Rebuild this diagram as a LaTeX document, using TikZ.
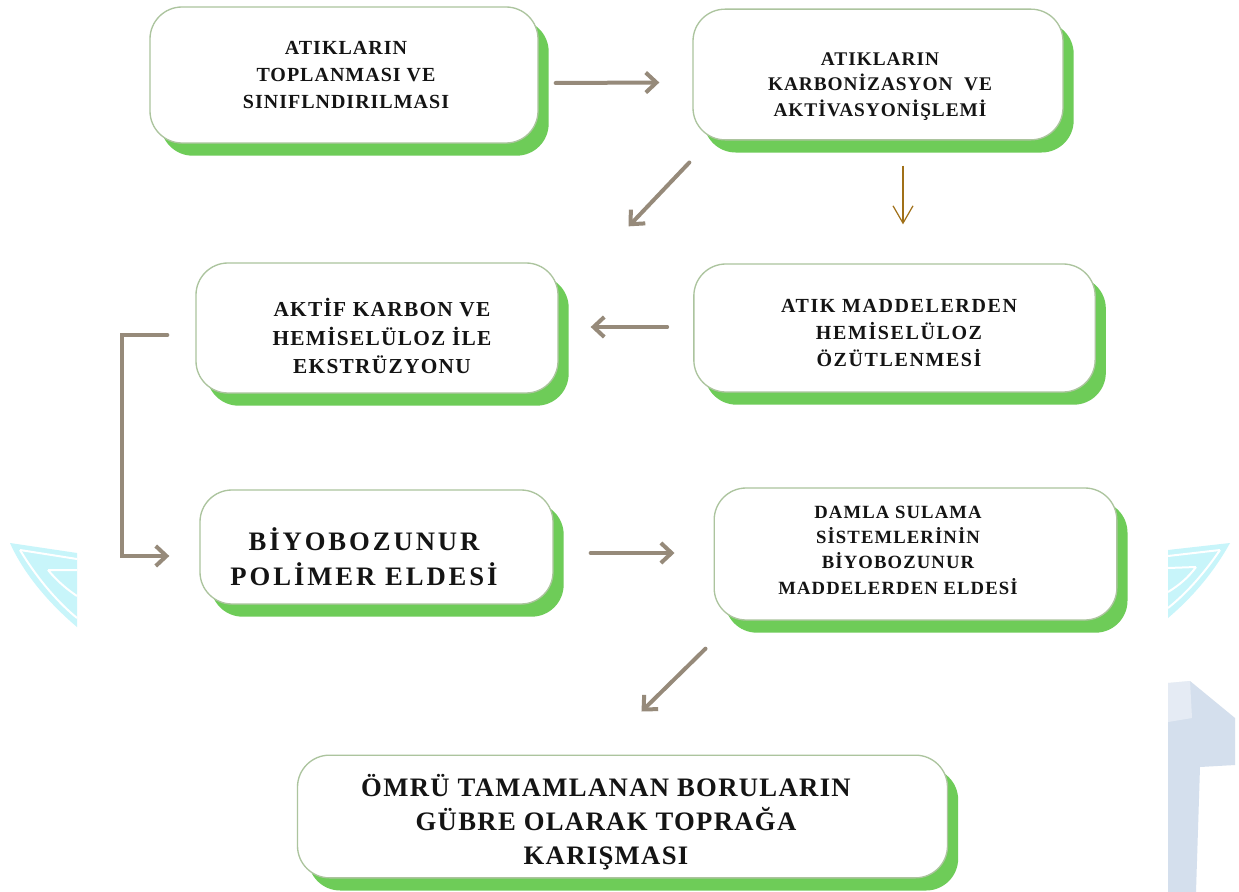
\documentclass[tikz,border=0pt]{standalone}
\usepackage{fontspec}
\setmainfont{Liberation Serif}
\usetikzlibrary{arrows.meta,shadows,calc}
\definecolor{shgreen}{RGB}{110,204,88}
\definecolor{boxline}{RGB}{172,196,158}
\definecolor{arrgray}{RGB}{150,138,122}
\definecolor{arrbrown}{RGB}{160,112,24}
\definecolor{wmcyan}{RGB}{200,245,250}
\definecolor{wmblue}{RGB}{212,223,237}
\tikzset{
  stepbox/.style={draw=boxline, line width=1pt, fill=white, rounded corners=24pt,
    inner sep=0pt, drop shadow={shadow xshift=8pt, shadow yshift=-9.5pt,
    fill=shgreen, opacity=1, shadow scale=1}},
  lbl/.style={align=center, inner sep=0pt, text=black!92},
  arr/.style={draw=arrgray, line width=3pt, line cap=round,
    -{Straight Barb[length=8pt,width=15pt]}},
  thinarr/.style={draw=arrbrown, line width=0.9pt,
    -{Straight Barb[length=13pt,width=15pt]}}
}
\newcommand{\boxfont}[3]{\bfseries\addfontfeatures{LetterSpace=#3}\fontsize{#1}{#2}\selectfont}
\begin{document}
\begin{tikzpicture}[x=0.75pt,y=-0.75pt]
\useasboundingbox (0,0) rectangle (1239,892);
\fill[white] (0,0) rectangle (1239,892);
% watermark remnants
\fill[wmcyan] (10,543) -- (77,553) -- (77,627) .. controls (45,600) and (22,570) .. cycle;
\draw[white, line width=1.5pt] (20,550) -- (77,559);
\draw[white, line width=1.5pt] (20,550) .. controls (35,575) and (55,600) .. (77,618);
\draw[white, line width=1.5pt] (48,570) -- (77,570) (48,570) .. controls (58,582) and (68,590) .. (77,596);
\fill[wmcyan] (1230,543) -- (1168,550) -- (1168,618) .. controls (1195,595) and (1215,570) .. cycle;
\draw[white, line width=1.5pt] (1220,550) -- (1168,556);
\draw[white, line width=1.5pt] (1220,550) .. controls (1205,572) and (1188,592) .. (1168,608);
\draw[white, line width=1.5pt] (1196,567) -- (1168,568) (1196,567) .. controls (1188,578) and (1178,586) .. (1168,592);
\fill[wmblue] (1168,683) -- (1190,681) -- (1235,718) -- (1235,765) -- (1200,767) -- (1196,892) -- (1168,892) -- cycle;
\fill[white, opacity=0.4] (1168,683) -- (1190,681) -- (1192,718) -- (1168,722) -- cycle;

% boxes
\node[stepbox, minimum width=291pt, minimum height=102pt] (b1) at (344,75) {};
\node[stepbox, minimum width=277.5pt, minimum height=98pt] (b2) at (878,74.5) {};
\node[stepbox, minimum width=271.5pt, minimum height=97.5pt] (b3) at (377,328) {};
\node[stepbox, minimum width=301pt, minimum height=96pt] (b4) at (894.5,328) {};
\node[stepbox, minimum width=264.75pt, minimum height=85.5pt] (b5) at (376.5,547) {};
\node[stepbox, minimum width=302pt, minimum height=99pt] (b6) at (915.5,554) {};
\node[stepbox, minimum width=487.5pt, minimum height=92pt] (b7) at (622.5,816.5) {};

% texts
\node[lbl, font=\boxfont{15}{20.6}{5}] (t1) at (346,75) {ATIKLARIN\\TOPLANMASI VE\\SINIFLNDIRILMASI};
\node[lbl, font=\boxfont{14.5}{19}{5}] (t2) at (880,86.5) {ATIKLARIN\\KARBONİZASYON\ \ VE\\AKTİVASYONİŞLEMİ};
\node[lbl, font=\boxfont{16}{21.7}{6}] (t3) at (382,336) {AKTİF KARBON VE\\HEMİSELÜLOZ İLE\\EKSTRÜZYONU};
\node[lbl, font=\boxfont{15}{20}{8}] (t4) at (899,333) {ATIK MADDELERDEN\\HEMİSELÜLOZ\\ÖZÜTLENMESİ};
\node[lbl, font=\boxfont{20}{26}{11}] (t5) at (364,557) {BİYOBOZUNUR\\POLİMER ELDESİ};
\node[lbl, font=\boxfont{14}{19}{6}] (t6) at (898,550) {DAMLA SULAMA\\SİSTEMLERİNİN\\BİYOBOZUNUR\\MADDELERDEN ELDESİ};
\node[lbl, font=\boxfont{20}{25.5}{5}] (t7) at (606,822) {ÖMRÜ TAMAMLANAN BORULARIN\\GÜBRE OLARAK TOPRAĞA\\KARIŞMASI};

% connectors
\draw[arr] ([shift={(17,8)}]b1.east) -- ([shift={(-33,8)}]b2.west);
\draw[arr] ([shift={(-3,22)}]b2.south west) -- ([shift={(70,-36)}]b3.north east);
\draw[thinarr] ([shift={(25,25)}]b2.south) -- ([shift={(8.5,-39)}]b4.north);
\draw[arr] ([shift={(-26,-1)}]b4.west) -- ([shift={(32,-1)}]b3.east);
\draw[arr] ([shift={(-28,7)}]b3.west) -- ++(-45,0) |- ([shift={(-30,9)}]b5.west);
\draw[arr] ([shift={(37,6)}]b5.east) -- ([shift={(-39,-1)}]b6.west);
\draw[arr] ([shift={(-8,28)}]b6.south west) -- ([shift={(19,-43)}]b7.north);
\end{tikzpicture}
\end{document}
